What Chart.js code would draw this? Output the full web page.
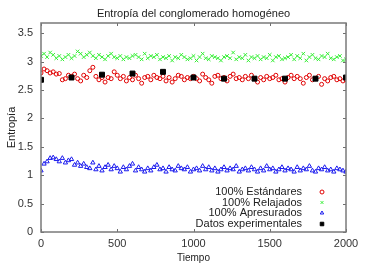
<!DOCTYPE html>
<html>
<head>
<meta charset="utf-8">
<script src="https://cdn.jsdelivr.net/npm/chart.js@4"></script>
<style>
  html, body { margin:0; padding:0; background:#ffffff; }
  #caja { width:367px; height:268px; }
</style>
</head>
<body>
<div id="caja"><canvas id="grafico"></canvas></div>
<script>
// datos
const tiempo = [
    0, 20, 40, 60, 80, 100, 120, 140, 160, 180,
    200, 220, 240, 260, 280, 300, 320, 340, 360, 380,
    400, 420, 440, 460, 480, 500, 520, 540, 560, 580,
    600, 620, 640, 660, 680, 700, 720, 740, 760, 780,
    800, 820, 840, 860, 880, 900, 920, 940, 960, 980,
    1000, 1020, 1040, 1060, 1080, 1100, 1120, 1140, 1160, 1180,
    1200, 1220, 1240, 1260, 1280, 1300, 1320, 1340, 1360, 1380,
    1400, 1420, 1440, 1460, 1480, 1500, 1520, 1540, 1560, 1580,
    1600, 1620, 1640, 1660, 1680, 1700, 1720, 1740, 1760, 1780,
    1800, 1820, 1840, 1860, 1880, 1900, 1920, 1940, 1960, 1980,
    2000
];

const estandares = [
    2.80, 2.87, 2.84, 2.80, 2.82, 2.78, 2.79, 2.68, 2.70, 2.76,
    2.74, 2.78, 2.70, 2.66, 2.76, 2.72, 2.84, 2.90, 2.74, 2.68,
    2.72, 2.64, 2.72, 2.70, 2.82, 2.76, 2.70, 2.74, 2.66, 2.72,
    2.68, 2.76, 2.70, 2.62, 2.72, 2.74, 2.68, 2.76, 2.72, 2.70,
    2.74, 2.66, 2.72, 2.64, 2.70, 2.76, 2.74, 2.68, 2.72, 2.70,
    2.74, 2.70, 2.66, 2.78, 2.72, 2.68, 2.62, 2.74, 2.76, 2.70,
    2.72, 2.66, 2.74, 2.78, 2.70, 2.72, 2.68, 2.74, 2.70, 2.76,
    2.70, 2.64, 2.72, 2.68, 2.74, 2.70, 2.72, 2.76, 2.68, 2.70,
    2.64, 2.72, 2.76, 2.70, 2.74, 2.70, 2.62, 2.72, 2.76, 2.68,
    2.70, 2.74, 2.60, 2.70, 2.66, 2.72, 2.74, 2.68, 2.70, 2.66,
    2.68
];

const relajados = [
    3.10, 3.14, 3.08, 3.16, 3.12, 3.06, 3.10, 3.04, 3.08, 3.12,
    3.06, 3.10, 3.18, 3.14, 3.08, 3.12, 3.16, 3.10, 3.06, 3.12,
    3.08, 3.04, 3.10, 3.14, 3.08, 3.06, 3.10, 3.04, 3.08, 3.06,
    3.10, 3.12, 3.08, 3.04, 3.14, 3.06, 3.10, 3.08, 3.12, 3.04,
    3.08, 3.06, 3.10, 3.02, 3.08, 3.06, 3.12, 3.08, 3.04, 3.06,
    3.10, 3.02, 3.08, 3.14, 3.06, 3.04, 3.10, 3.08, 3.06, 3.02,
    3.08, 3.10, 3.06, 3.16, 3.04, 3.08, 3.06, 3.12, 3.02, 3.08,
    3.06, 3.10, 3.04, 3.08, 3.06, 3.12, 3.02, 3.08, 3.10, 3.04,
    3.06, 3.08, 3.12, 3.04, 3.10, 3.06, 3.14, 3.02, 3.08, 3.12,
    3.06, 3.04, 3.10, 3.08, 3.14, 3.06, 3.04, 3.08, 3.10, 3.02,
    3.04
];

const apresurados = [
    1.08, 1.20, 1.24, 1.30, 1.31, 1.28, 1.24, 1.30, 1.22, 1.26,
    1.28, 1.18, 1.22, 1.16, 1.20, 1.14, 1.12, 1.22, 1.10, 1.16,
    1.08, 1.14, 1.18, 1.10, 1.16, 1.12, 1.06, 1.14, 1.10, 1.16,
    1.20, 1.08, 1.14, 1.10, 1.06, 1.12, 1.08, 1.14, 1.18, 1.10,
    1.12, 1.06, 1.14, 1.10, 1.08, 1.16, 1.12, 1.10, 1.14, 1.06,
    1.10, 1.12, 1.08, 1.16, 1.10, 1.14, 1.08, 1.12, 1.06, 1.10,
    1.14, 1.08, 1.12, 1.10, 1.16, 1.06, 1.10, 1.12, 1.08, 1.14,
    1.10, 1.06, 1.12, 1.08, 1.16, 1.10, 1.12, 1.06, 1.10, 1.14,
    1.08, 1.12, 1.10, 1.06, 1.14, 1.08, 1.12, 1.10, 1.16, 1.08,
    1.06, 1.12, 1.10, 1.14, 1.08, 1.10, 1.06, 1.12, 1.10, 1.08,
    1.06
];

const tiempoExp = [0, 200, 400, 600, 800, 1000, 1200, 1400, 1600, 1800, 2000];
const experimentales = [2.68, 2.72, 2.77, 2.79, 2.82, 2.72, 2.70, 2.70, 2.70, 2.70, 2.72];

const ticksX = [0, 500, 1000, 1500, 2000];
const ticksY = [0, 0.5, 1, 1.5, 2, 2.5, 3, 3.5];

const titulo = 'Entropía del conglomerado homogéneo';
const fuente = "'Liberation Sans', Arial, sans-serif";

function puntos(xs, ys){
    return xs.map(function(x, i){ return {x: x, y: ys[i]}; });
}

// titulo centrado sobre el area del grafico
const tituloPlugin = {
    id: 'tituloArea',
    afterDraw(chart){
        const ctx = chart.ctx;
        const a = chart.chartArea;
        ctx.save();
        ctx.font = '11px ' + fuente;
        ctx.fillStyle = '#222222';
        ctx.textAlign = 'center';
        ctx.textBaseline = 'middle';
        ctx.fillText(titulo, (a.left + a.right) / 2, 14);
        ctx.restore();
    }
};

// marco y marcas hacia adentro, como en el original
const marcoPlugin = {
    id: 'marco',
    afterDatasetsDraw(chart){
        const ctx = chart.ctx;
        const a = chart.chartArea;
        const sx = chart.scales.x;
        const sy = chart.scales.y;
        ctx.save();
        ctx.strokeStyle = '#6e6e6e';
        ctx.lineWidth = 1;
        ticksX.forEach(function(v){
            const px = Math.round(sx.getPixelForValue(v)) + 0.5;
            ctx.beginPath();
            ctx.moveTo(px, a.bottom); ctx.lineTo(px, a.bottom - 3);
            ctx.moveTo(px, a.top); ctx.lineTo(px, a.top + 3);
            ctx.stroke();
        });
        ticksY.forEach(function(v){
            const py = Math.round(sy.getPixelForValue(v)) + 0.5;
            ctx.beginPath();
            ctx.moveTo(a.left, py); ctx.lineTo(a.left + 3, py);
            ctx.moveTo(a.right, py); ctx.lineTo(a.right - 3, py);
            ctx.stroke();
        });
        ctx.lineWidth = 1.5;
        ctx.strokeStyle = '#7a7a7a';
        ctx.strokeRect(a.left, a.top, a.right - a.left, a.bottom - a.top);
        ctx.restore();
    }
};

// leyenda abajo a la derecha: texto a la izquierda, simbolo a la derecha
const leyendaPlugin = {
    id: 'leyenda',
    afterDraw(chart){
        const ctx = chart.ctx;
        const a = chart.chartArea;
        const orden = [0, 1, 2, 3];
        const filas = [40, 29.5, 19, 8];
        ctx.save();
        ctx.font = '11px ' + fuente;
        ctx.textAlign = 'right';
        ctx.textBaseline = 'middle';
        orden.forEach(function(i, k){
            const ds = chart.data.datasets[i];
            const y = a.bottom - filas[k];
            ctx.fillStyle = '#222222';
            ctx.fillText(ds.label, a.right - 44, y);
            ctx.strokeStyle = ds.borderColor;
            ctx.fillStyle = ds.backgroundColor;
            ctx.lineWidth = 1;
            Chart.helpers.drawPoint(ctx, {
                pointStyle: ds.pointStyle,
                radius: ds.pointStyle === 'rect' ? 2.5 : 2,
                rotation: 0,
                borderWidth: 1
            }, a.right - 24, y);
        });
        ctx.restore();
    }
};

new Chart(document.getElementById('grafico'), {
    type: 'scatter',
    data: {
        datasets: [
            {
                label: '100% Estándares',
                data: puntos(tiempo, estandares),
                pointStyle: 'circle',
                radius: 2,
                borderWidth: 1,
                borderColor: '#e00000',
                backgroundColor: 'rgba(0,0,0,0)',
                order: 3
            },
            {
                label: '100% Relajados',
                data: puntos(tiempo, relajados),
                pointStyle: 'crossRot',
                radius: 2.5,
                borderWidth: 1,
                borderColor: '#33ee33',
                backgroundColor: 'rgba(0,0,0,0)',
                order: 2
            },
            {
                label: '100% Apresurados',
                data: puntos(tiempo, apresurados),
                pointStyle: 'triangle',
                radius: 2.5,
                borderWidth: 1,
                borderColor: '#1a1aee',
                backgroundColor: 'rgba(0,0,0,0)',
                order: 1
            },
            {
                label: 'Datos experimentales',
                data: puntos(tiempoExp, experimentales),
                pointStyle: 'rect',
                radius: 3.5,
                borderWidth: 1,
                borderColor: '#000000',
                backgroundColor: '#000000',
                order: 0
            }
        ]
    },
    options: {
        responsive: true,
        maintainAspectRatio: false,
        animation: false,
        layout: { padding: { left: 0, right: 21, top: 23, bottom: 0 } },
        plugins: {
            legend: { display: false },
            tooltip: { enabled: false },
            title: { display: false }
        },
        scales: {
            x: {
                type: 'linear',
                min: 0,
                max: 2000,
                afterBuildTicks: function(scale){
                    scale.ticks = ticksX.map(function(v){ return {value: v}; });
                },
                afterFit: function(scale){ scale.height = 36; },
                grid: { display: false, drawTicks: false },
                border: { display: false },
                ticks: {
                    color: '#333333',
                    font: { family: fuente, size: 11 },
                    padding: 5,
                    maxRotation: 0,
                    callback: function(v){ return String(v); }
                },
                title: {
                    display: true,
                    text: 'Tiempo',
                    color: '#222222',
                    font: { family: fuente, size: 10 },
                    padding: { top: 0, bottom: 4 }
                }
            },
            y: {
                type: 'linear',
                min: 0,
                max: 3.68,
                afterBuildTicks: function(scale){
                    scale.ticks = ticksY.map(function(v){ return {value: v}; });
                },
                afterFit: function(scale){ scale.width = 41; },
                grid: { display: false, drawTicks: false },
                border: { display: false },
                ticks: {
                    color: '#333333',
                    font: { family: fuente, size: 11 },
                    padding: 8,
                    callback: function(v){ return String(v); }
                },
                title: {
                    display: true,
                    text: 'Entropía',
                    color: '#222222',
                    font: { family: fuente, size: 11 },
                    padding: { top: 5, bottom: 0 }
                }
            }
        }
    },
    plugins: [marcoPlugin, leyendaPlugin, tituloPlugin]
});
</script>
</body>
</html>
